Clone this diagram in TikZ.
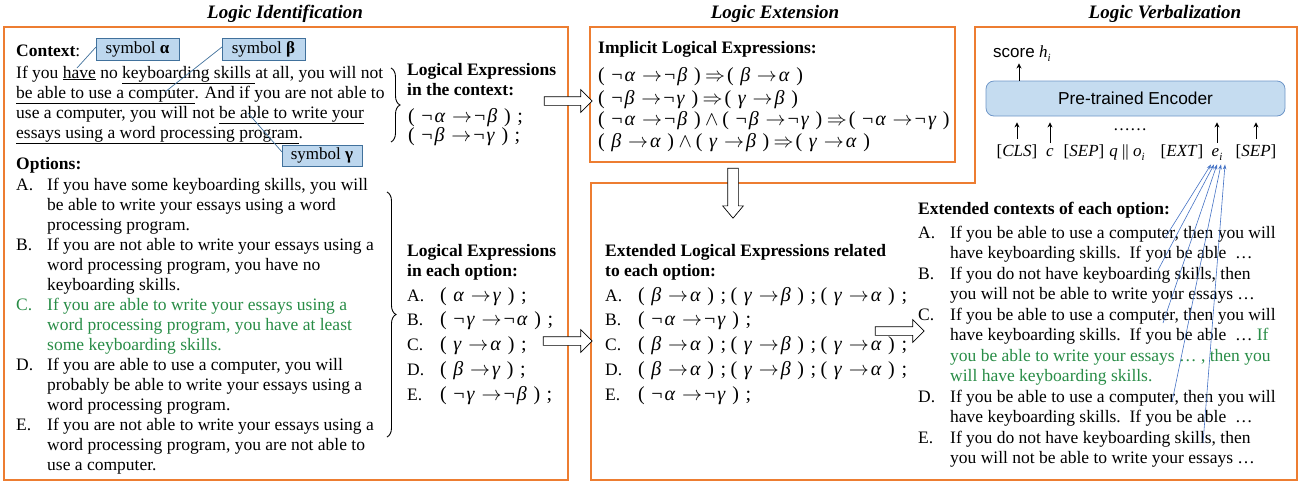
\RequirePackage{fix-cm}
\documentclass[tikz,border=0pt]{standalone}
\usepackage{fontspec}
\setmainfont{Liberation Serif}
\setsansfont{Liberation Sans}
\usetikzlibrary{decorations.pathreplacing,shapes.arrows,arrows.meta}
\definecolor{boxorange}{RGB}{237,125,49}
\definecolor{optgreen}{RGB}{40,140,70}
\definecolor{symfill}{RGB}{189,215,238}
\definecolor{symdraw}{RGB}{65,113,156}
\definecolor{encfill}{RGB}{197,220,240}
\definecolor{encdraw}{RGB}{110,150,200}
\definecolor{linkblue}{RGB}{68,114,196}
\newcommand\Xf{\fontsize{20}{20}\selectfont}
\newcommand\Sp{\hspace{0.33em}}
\newcommand\Sq{\hspace{0.1em}}
\newcommand\Gr[1]{\textit{#1}}
\newcommand\Nt{¬\hspace{0.1em}}
\newcommand\Ex[2]{(\Sp#1\Sp\ensuremath{\rightarrow}\Sq#2\Sp)}
\newcommand\Sc{\Sp;\hspace{0.22em}}
\newcommand\Then{\hspace{0.22em}\ensuremath{\Rightarrow}\hspace{0.1em}}
\newcommand\Wedge{\hspace{0.22em}\ensuremath{\wedge}\hspace{0.2em}}
\newcommand\Sub[1]{\raisebox{-0.25em}{\fontsize{11}{11}\selectfont\textit{#1}}}
\newcommand\Lb[2]{\makebox[#1][l]{#2}}
\begin{document}
\begin{tikzpicture}[x=1pt,y=-1pt,
  txt/.style={anchor=base west, inner sep=0pt, font=\fontsize{17.5}{20}\selectfont},
  hdr/.style={anchor=base west, inner sep=0pt, font=\fontsize{17.5}{20}\selectfont\bfseries},
  gtxt/.style={txt, text=optgreen},
  ttl/.style={anchor=base, inner sep=0pt, font=\fontsize{19}{22}\selectfont\bfseries\itshape},
  panel/.style={draw=boxorange, line width=1.5pt},
  symbox/.style={draw=symdraw, fill=symfill, line width=0.8pt, minimum width=83pt, minimum height=22pt, inner sep=0pt, font=\fontsize{17}{20}\selectfont},
  symline/.style={draw=symdraw, line width=0.7pt},
  brc/.style={draw=black, line width=0.9pt, decorate, decoration={brace, amplitude=9pt}},
  hollowh/.style={single arrow, draw=black, fill=white, line width=0.7pt, inner xsep=0pt, inner ysep=4pt, single arrow head extend=7pt, single arrow tip angle=90, minimum height=48pt, outer sep=0pt},
  hollowv/.style={single arrow, draw=black, fill=white, line width=0.7pt, inner xsep=0pt, inner ysep=5pt, single arrow head extend=5pt, single arrow tip angle=80, minimum height=50pt, outer sep=0pt, rotate=-90},
  tok/.style={anchor=base, inner sep=0pt, font=\fontsize{17}{18}\selectfont},
  uparrow/.style={draw=black, line width=1pt, -{Stealth[length=5pt,width=5pt]}},
  link/.style={draw=linkblue, line width=0.6pt, {Stealth[length=5pt,width=3.5pt]}-}
]
\useasboundingbox (0,0) rectangle (1307,483);

% titles
\node[ttl] (t1) at (285,18) {Logic Identification};
\node[ttl] (t2) at (775,18) {Logic Extension};
\node[ttl] (t3) at (1165,18) {Logic Verbalization};

% panels
\draw[panel] (4,27) rectangle (568,480);
\draw[panel] (590,27) rectangle (955,162);
\draw[panel] (975,27) -- (1297,27) -- (1297,480) -- (591,480) -- (591,183) -- (975,183) -- cycle;

% ---------------- Logic Identification ----------------
\node[txt] (ctx) at (16,56) {\textbf{Context}:};
\node[txt] (c1) at (16,78) {If you \underline{have} no \underline{keyboarding skills }at all, you will not};
\node[txt] (c2) at (16,98) {\underline{be able to use a computer}. And if you are not able to};
\node[txt] (c3) at (16,118) {use a computer, you will not \underline{be able to write your}};
\node[txt] (c4) at (16,138) {\underline{essays using a word processing program}.};

\coordinate (have) at (77,68);
\coordinate (comp) at (165,92);
\coordinate (write) at (248,113);
\draw[symline] (have) -- (96,47);
\draw[symline] (comp) -- (222,47);
\draw[symline] (write) -- (282,152);
\node[symbox] (sa) at (137.5,49) {symbol \textbf{α}};
\node[symbox] (sb) at (263.5,49) {symbol \textbf{β}};
\node[symbox, minimum width=80pt, minimum height=21pt] (sg) at (322,155.5) {symbol \textbf{γ}};

\node[txt] (opt) at (16,169) {\textbf{Options:}};
\node[txt] (oa1) at (16,190) {\Lb{31pt}{A.}If you have some keyboarding skills, you will};
\node[txt] (oa2) at (47,210) {be able to write your essays using a word};
\node[txt] (oa3) at (47,230) {processing program.};
\node[txt] (ob1) at (16,250) {\Lb{31pt}{B.}If you are not able to write your essays using a};
\node[txt] (ob2) at (47,270) {word processing program, you have no};
\node[txt] (ob3) at (47,290) {keyboarding skills.};
\node[gtxt] (oc1) at (16,310) {\Lb{31pt}{C.}If you are able to write your essays using a};
\node[gtxt] (oc2) at (47,330) {word processing program, you have at least};
\node[gtxt] (oc3) at (47,350) {some keyboarding skills.};
\node[txt] (od1) at (16,370) {\Lb{31pt}{D.}If you are able to use a computer, you will};
\node[txt] (od2) at (47,390) {probably be able to write your essays using a};
\node[txt] (od3) at (47,410) {word processing program.};
\node[txt] (oe1) at (16,430) {\Lb{31pt}{E.}If you are not able to write your essays using a};
\node[txt] (oe2) at (47,450) {word processing program, you are not able to};
\node[txt] (oe3) at (47,470) {use a computer.};

\draw[brc] (391,68) -- (391,142);
\draw[brc] (387,192) -- (387,437);

\node[hdr] (lc1) at (407,75) {Logical Expressions};
\node[hdr] (lc2) at (407,95) {in the context:};
\node[txt] (lc3) at (408,122) {\Xf\Ex{\Nt\Gr{α}}{\Nt\Gr{β}}\Sc};
\node[txt] (lc4) at (408,141) {\Xf\Ex{\Nt\Gr{β}}{\Nt\Gr{γ}}\Sc};

\node[hdr] (lo1) at (407,256) {Logical Expressions};
\node[hdr] (lo2) at (407,276) {in each option:};
\node[txt] (loa) at (407,301) {\Lb{33pt}{A.}{\Xf\Ex{\Gr{α}}{\Gr{γ}}\Sc}};
\node[txt] (lob) at (407,325.5) {\Lb{33pt}{B.}{\Xf\Ex{\Nt\Gr{γ}}{\Nt\Gr{α}}\Sc}};
\node[txt] (loc) at (407,350) {\Lb{33pt}{C.}{\Xf\Ex{\Gr{γ}}{\Gr{α}}\Sc}};
\node[txt] (lod) at (407,375) {\Lb{33pt}{D.}{\Xf\Ex{\Gr{β}}{\Gr{γ}}\Sc}};
\node[txt] (loe) at (407,400) {\Lb{33pt}{E.}{\Xf\Ex{\Nt\Gr{γ}}{\Nt\Gr{β}}\Sc}};

% hollow arrows
\node[hollowh] (ar1) at (566,101) {};
\node[hollowh, minimum height=49pt] (ar2) at (565.5,341) {};
\node[hollowh, minimum height=49pt] (ar3) at (897.5,331) {};
\node[hollowv] (ar4) at (733,190) {};

% ---------------- Logic Extension ----------------
\node[hdr] (imp) at (598,53) {Implicit Logical Expressions:};
\node[txt] (i1) at (598,81) {\Xf\Ex{\Nt\Gr{α}}{\Nt\Gr{β}}\Then\Ex{\Gr{β}}{\Gr{α}}};
\node[txt] (i2) at (598,104) {\Xf\Ex{\Nt\Gr{β}}{\Nt\Gr{γ}}\Then\Ex{\Gr{γ}}{\Gr{β}}};
\node[txt] (i3) at (598,125) {\Xf\Ex{\Nt\Gr{α}}{\Nt\Gr{β}}\Wedge\Ex{\Nt\Gr{β}}{\Nt\Gr{γ}}\Then\Ex{\Nt\Gr{α}}{\Nt\Gr{γ}}};
\node[txt] (i4) at (598,147) {\Xf\Ex{\Gr{β}}{\Gr{α}}\Wedge\Ex{\Gr{γ}}{\Gr{β}}\Then\Ex{\Gr{γ}}{\Gr{α}}};

\node[hdr] (el1) at (605,256) {Extended Logical Expressions related};
\node[hdr] (el2) at (605,276) {to each option:};
\node[txt] (ela) at (605,301) {\Lb{33pt}{A.}{\Xf\Ex{\Gr{β}}{\Gr{α}}\Sc\Ex{\Gr{γ}}{\Gr{β}}\Sc\Ex{\Gr{γ}}{\Gr{α}}\Sc}};
\node[txt] (elb) at (605,325.5) {\Lb{33pt}{B.}{\Xf\Ex{\Nt\Gr{α}}{\Nt\Gr{γ}}\Sc}};
\node[txt] (elc) at (605,350) {\Lb{33pt}{C.}{\Xf\Ex{\Gr{β}}{\Gr{α}}\Sc\Ex{\Gr{γ}}{\Gr{β}}\Sc\Ex{\Gr{γ}}{\Gr{α}}\Sc}};
\node[txt] (eld) at (605,375) {\Lb{33pt}{D.}{\Xf\Ex{\Gr{β}}{\Gr{α}}\Sc\Ex{\Gr{γ}}{\Gr{β}}\Sc\Ex{\Gr{γ}}{\Gr{α}}\Sc}};
\node[txt] (ele) at (605,400) {\Lb{33pt}{E.}{\Xf\Ex{\Nt\Gr{α}}{\Nt\Gr{γ}}\Sc}};

% ---------------- Logic Verbalization ----------------
\node[draw=encdraw, fill=encfill, line width=0.8pt, rounded corners=8pt, minimum width=299pt, minimum height=35pt, inner sep=0pt, font=\sffamily\fontsize{17.3}{20}\selectfont] (enc) at (1135.5,98.5) {Pre-trained Encoder};
\node[anchor=base west, inner sep=0pt, font=\fontsize{17}{20}\selectfont] (score) at (993,57) {\textsf{score} \textit{h}\Sub{i}};
\coordinate (sx) at (1019,0);
\draw[uparrow] (enc.north -| sx) -- ([yshift=-2pt]score.south -| sx);

\node[tok] (cls) at (1017,156) {[\textit{CLS}]};
\node[tok] (cc) at (1050,156) {\textit{c}};
\node[tok] (sep1) at (1084,156) {[\textit{SEP}]};
\node[tok] (qo) at (1127,156) {\textit{q} || \textit{o}\Sub{i}};
\node[tok] (ext) at (1182,156) {[\textit{EXT}]};
\node[tok] (ei) at (1217,156) {\textit{e}\Sub{i}};
\node[tok] (sep2) at (1256,156) {[\textit{SEP}]};
\node[tok] (dots) at (1130,130) {……};
\foreach \t in {cls,cc,ei,sep2}{
  \draw[uparrow, shorten <=5pt, shorten >=6pt] (\t.north) -- (\t.north |- enc.south);
}

\node[hdr] (ech) at (918,214) {Extended contexts of each option:};
\node[txt] (xa1) at (918,238) {\Lb{32pt}{A.}If you be able to use a computer, then you will};
\node[txt] (xa2) at (950,258.5) {have keyboarding skills.\ \ If you be able \ …};
\node[txt] (xb1) at (918,279) {\Lb{32pt}{B.}If you do not have keyboarding skills, then};
\node[txt] (xb2) at (950,299.5) {you will not be able to write your essays …};
\node[txt] (xc1) at (918,320) {\Lb{32pt}{C.}If you be able to use a computer, then you will};
\node[txt] (xc2) at (950,340.5) {have keyboarding skills.\ \ If you be able \ … \textcolor{optgreen}{If}};
\node[gtxt] (xc3) at (950,361) {you be able to write your essays … , then you};
\node[gtxt] (xc4) at (950,381.5) {will have keyboarding skills.};
\node[txt] (xd1) at (918,402) {\Lb{32pt}{D.}If you be able to use a computer, then you will};
\node[txt] (xd2) at (950,422.5) {have keyboarding skills.\ \ If you be able \ …};
\node[txt] (xe1) at (918,443) {\Lb{32pt}{E.}If you do not have keyboarding skills, then};
\node[txt] (xe2) at (950,463.5) {you will not be able to write your essays …};

\coordinate (eA) at (1165,238);
\coordinate (eB) at (1157,272);
\coordinate (eC) at (1163,323);
\coordinate (eD) at (1172,402);
\coordinate (eE) at (1203,443);
\draw[link] ([xshift=-6pt,yshift=-4pt]ei.south) -- (eA);
\draw[link] ([xshift=-3pt,yshift=-4pt]ei.south) -- (eB);
\draw[link] ([xshift=0pt,yshift=-4pt]ei.south) -- (eC);
\draw[link] ([xshift=4pt,yshift=-4pt]ei.south) -- (eD);
\draw[link] ([xshift=8pt,yshift=-4pt]ei.south) -- (eE);
\end{tikzpicture}
\end{document}
